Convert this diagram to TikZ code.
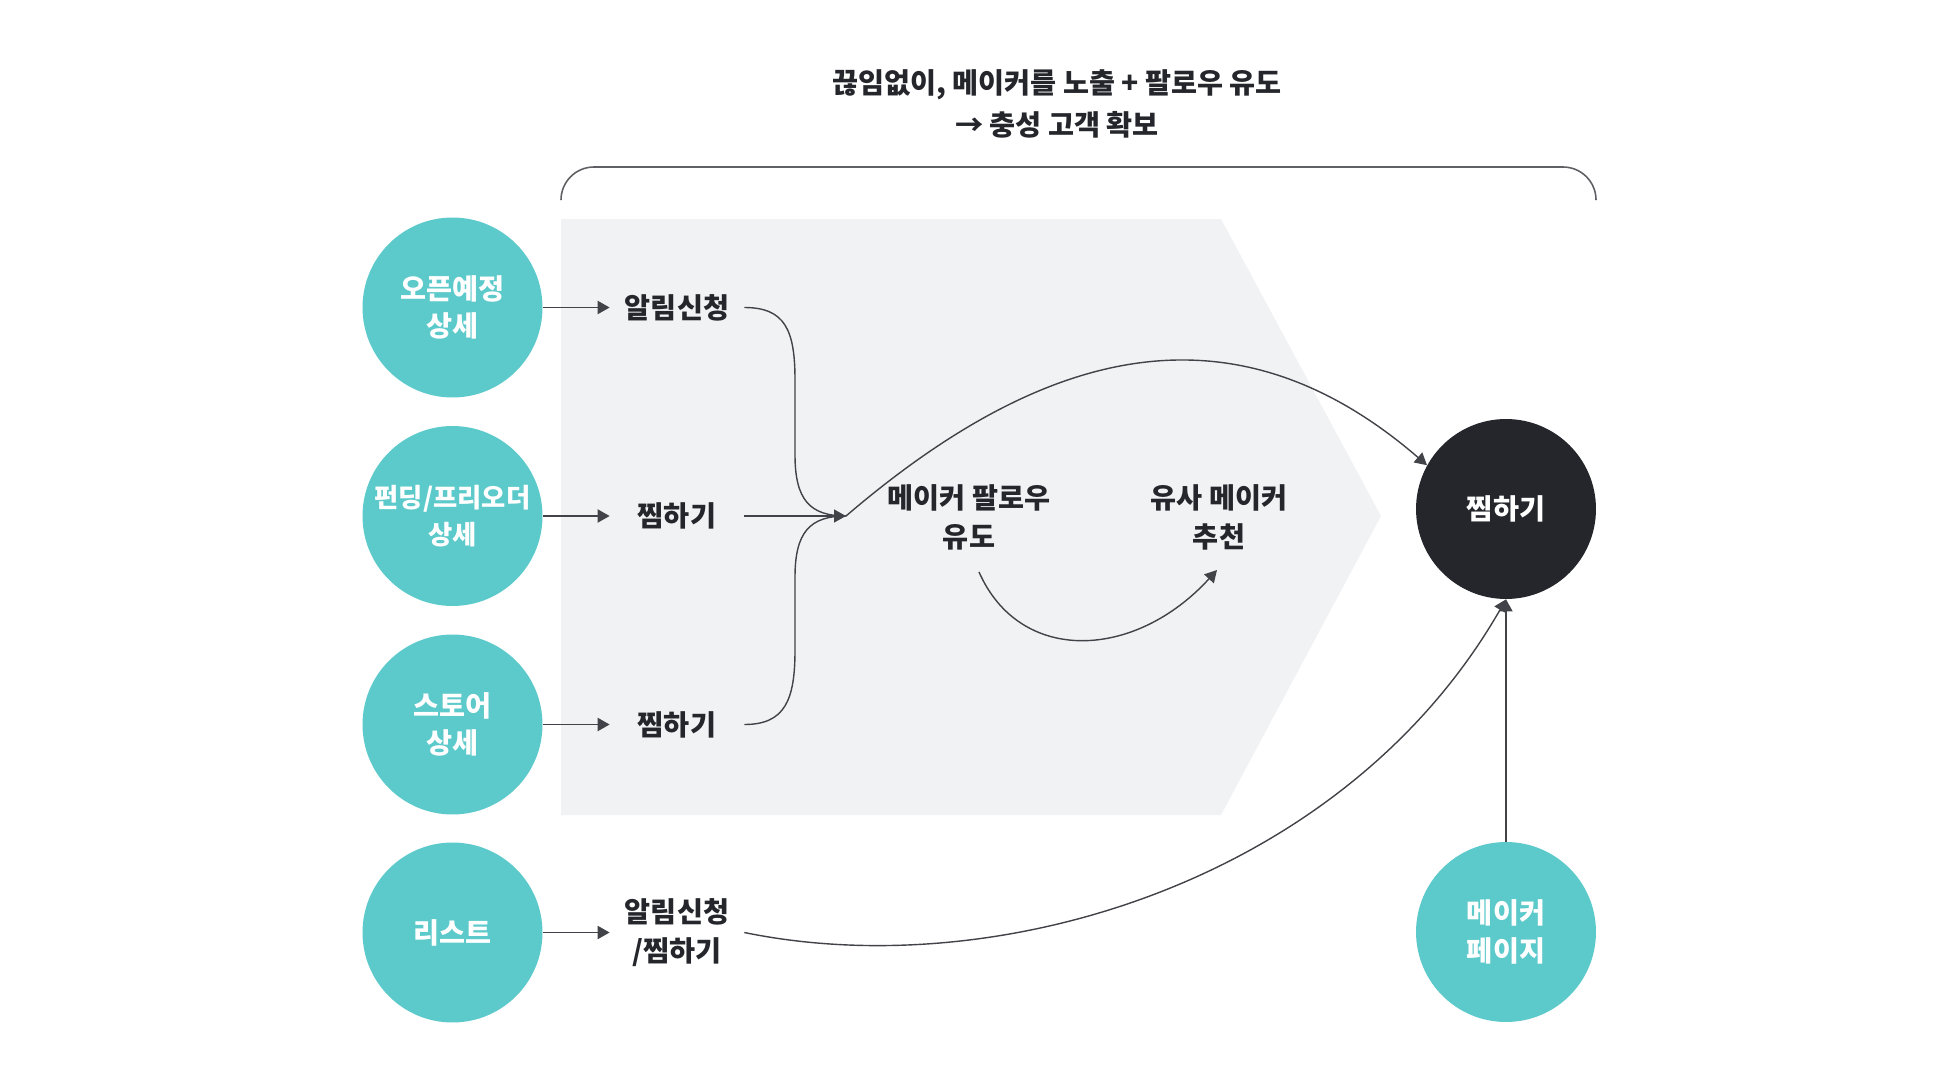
\documentclass[tikz,border=0pt]{standalone}
\usepackage{fontspec}
\setmainfont{Noto Sans CJK KR}
\usepackage{tikz}
\usetikzlibrary{arrows.meta, positioning}
\definecolor{tealsrc}{RGB}{92, 201, 202}
\definecolor{inkdark}{RGB}{36, 38, 43}
\definecolor{panelgray}{RGB}{241, 242, 244}
\definecolor{linegray}{RGB}{66, 67, 72}
\definecolor{bracegray}{RGB}{95, 96, 100}
\newcommand{\krfont}[1]{\fontsize{16.1}{#1}\selectfont\bfseries}
\tikzset{
  srccirc/.style  = {circle, fill=tealsrc, minimum size=3.6cm, inner sep=0pt, align=center, text=white, font=\krfont{21.3pt}},
  goalcirc/.style = {circle, fill=inkdark, minimum size=3.6cm, inner sep=0pt, align=center, text=white, font=\krfont{21.3pt}},
  act/.style      = {align=center, minimum width=2.68cm, inner sep=0pt, text=inkdark, font=\krfont{22.2pt}},
  step2/.style    = {align=center, inner sep=0pt, text=inkdark, font=\krfont{22.2pt}},
  feed/.style     = {-{Triangle[length=0.24cm, width=0.26cm]}, line width=1.1pt, linegray},
  link/.style     = {line width=0.8pt, linegray},
  linkarr/.style  = {link, -{Triangle[length=0.24cm, width=0.26cm]}},
  bracket/.style  = {line width=0.9pt, bracegray, rounded corners=0.66cm},
}

\begin{document}
\begin{tikzpicture}[x=0.02cm, y=-0.02cm]
  \useasboundingbox (0,0) rectangle (1960,1078);

  % 배경 화살표 영역
  \fill[panelgray] (561,219) -- (1221,219) -- (1381,516) -- (1221,815) -- (561,815) -- cycle;

  % 상단 설명
  \node[step2, font=\krfont{24pt}] (title) at (1057,104) {끊임없이, 메이커를 노출 + 팔로우 유도\\→ 충성 고객 확보};
  \draw[bracket] (561,200) -- (561,167) -- (1596,167) -- (1596,200);

  % 유입 페이지
  \node[srccirc] (src1) at (452.5,307.5) {오픈예정\\상세};
  \node[srccirc, font=\fontsize{15}{21.3pt}\selectfont\bfseries] (src2) at (452.5,516) {펀딩/프리오더\\상세};
  \node[srccirc] (src3) at (452.5,724.5) {스토어\\상세};
  \node[srccirc] (src4) at (452.5,932.5) {리스트};

  % 행동
  \node[act] (act1) at (677,307.5) {알림신청};
  \node[act] (act2) at (677,516) {찜하기};
  \node[act] (act3) at (677,724.5) {찜하기};
  \node[act] (act4) at (677,932.5) {알림신청\\/찜하기};

  \node[step2] (follow) at (969,517) {메이커 팔로우\\유도};
  \node[step2] (similar) at (1219,517) {유사 메이커\\추천};

  \node[goalcirc] (wish) at (1506,509) {찜하기};
  \node[srccirc] (mpage) at (1506,932) {메이커\\페이지};

  \coordinate (hub) at (846,516);
  \coordinate (arcA) at (979,572);
  \coordinate (arcB) at (1217,570);

  % 연결
  \draw[feed] (src1) -- (act1);
  \draw[feed] (src2) -- (act2);
  \draw[feed] (src3) -- (act3);
  \draw[feed] (src4) -- (act4);

  \draw[link] (act1.east) .. controls (785,307.5) and (795,330) .. (795,380) -- (795,455)
              .. controls (795,500) and (810,516) .. (hub);
  \draw[link] (act3.east) .. controls (785,724.5) and (795,700) .. (795,650) -- (795,577)
              .. controls (795,532) and (810,516) .. (hub);
  \draw[linkarr] (act2.east) -- (hub);

  \draw[linkarr] (hub) .. controls (1040,350) and (1230,295) .. (wish.151);
  \draw[linkarr] (arcA) .. controls (1020,665) and (1135,660) .. (arcB);
  \draw[linkarr] (act4.east) .. controls (1000,985) and (1345,880) .. (wish.south);
  \draw[linkarr] (mpage.north) -- (wish.south);

\end{tikzpicture}
\end{document}
